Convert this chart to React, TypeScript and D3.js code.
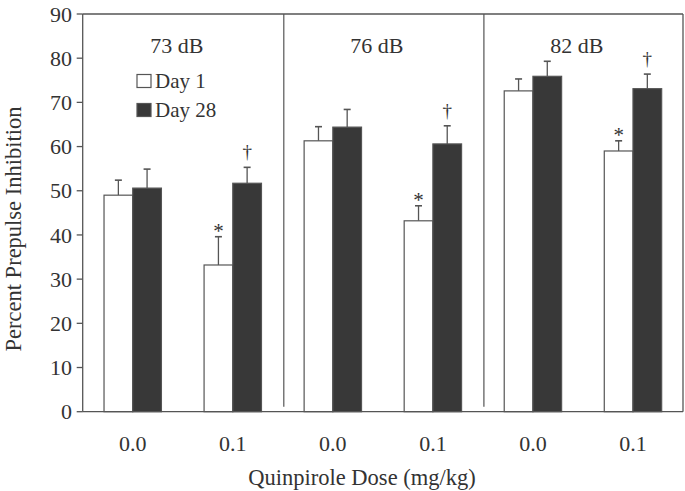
import React from "react";
import * as d3 from "d3";

const groups = ["73 dB", "76 dB", "82 dB"];
const doses = ["0.0", "0.1", "0.0", "0.1", "0.0", "0.1"];
const day1 = [49.0, 33.2, 61.3, 43.2, 72.6, 59.0];
const day1Err = [3.4, 6.4, 3.2, 3.4, 2.7, 2.3];
const day28 = [50.6, 51.7, 64.4, 60.6, 75.9, 73.1];
const day28Err = [4.3, 3.6, 4.0, 4.1, 3.4, 3.3];
const star = [false, true, false, true, false, true];
const dagger = [false, true, false, true, false, true];
const yTicks = [0, 10, 20, 30, 40, 50, 60, 70, 80, 90];

const W = 685;
const H = 491;
const M = { left: 82.7, right: 683, top: 14, bottom: 411.7 };
const FONT = "'Liberation Serif', 'Times New Roman', serif";
const TXT = "#333";
const LINE = "#555";
const DARK = "#383838";

export default function App() {
  const x = d3
    .scaleBand<number>()
    .domain(d3.range(doses.length))
    .range([M.left, M.right])
    .paddingInner(0)
    .paddingOuter(0);
  const y = d3.scaleLinear().domain([0, 90]).range([M.bottom, M.top]);
  const bw = 28.7;
  const cap = 3.5;

  const bars: React.ReactNode[] = [];
  doses.forEach((_, i) => {
    const c = (x(i) as number) + x.bandwidth() / 2;
    const x1 = c - bw;
    const x2 = c;
    const e1 = y(day1[i] + day1Err[i]);
    const e2 = y(day28[i] + day28Err[i]);
    bars.push(
      <g key={"b" + i}>
        <line x1={x1 + bw / 2} x2={x1 + bw / 2} y1={y(day1[i])} y2={e1} stroke={LINE} strokeWidth={1.3} />
        <line x1={x1 + bw / 2 - cap} x2={x1 + bw / 2 + cap} y1={e1} y2={e1} stroke={LINE} strokeWidth={1.6} />
        <line x1={x2 + bw / 2} x2={x2 + bw / 2} y1={y(day28[i])} y2={e2} stroke={LINE} strokeWidth={1.3} />
        <line x1={x2 + bw / 2 - cap} x2={x2 + bw / 2 + cap} y1={e2} y2={e2} stroke={LINE} strokeWidth={1.6} />
        <rect x={x1} y={y(day1[i])} width={bw} height={y(0) - y(day1[i])} fill="#fff" stroke={LINE} strokeWidth={1.2} />
        <rect x={x2} y={y(day28[i])} width={bw} height={y(0) - y(day28[i])} fill={DARK} stroke={LINE} strokeWidth={1.2} />
        {star[i] && (
          <text x={x1 + bw / 2} y={e1 + 1} textAnchor="middle" fontSize={21} fill={TXT} fontFamily={FONT}>
            *
          </text>
        )}
        {dagger[i] && (
          <text x={x2 + bw / 2} y={e2 - 9} textAnchor="middle" fontSize={19} fill={TXT} fontFamily={FONT}>
            †
          </text>
        )}
      </g>
    );
  });

  const dividers = [2, 4].map((i) => x(i) as number);

  return (
    <svg width={W} height={H} style={{ position: "absolute", left: 0, top: 0 }}>
      <rect x={0} y={0} width={W} height={H} fill="#fff" />
      {bars}
      <line x1={M.left} x2={M.right} y1={M.top} y2={M.top} stroke={LINE} strokeWidth={1.3} />
      <line x1={M.right} x2={M.right} y1={M.top} y2={M.bottom} stroke={LINE} strokeWidth={1.3} />
      <line x1={M.left} x2={M.right} y1={M.bottom} y2={M.bottom} stroke={LINE} strokeWidth={1.3} />
      <line x1={M.left} x2={M.left} y1={M.top} y2={M.bottom} stroke={LINE} strokeWidth={1.3} />
      {dividers.map((d, k) => (
        <line key={k} x1={d + 1} x2={d + 1} y1={M.top} y2={M.bottom - 5} stroke={LINE} strokeWidth={1.2} />
      ))}
      {yTicks.map((t) => (
        <g key={t}>
          <line x1={M.left - 6} x2={M.left} y1={y(t)} y2={y(t)} stroke={LINE} strokeWidth={1.3} />
          <text x={72} y={y(t)} dy="0.35em" textAnchor="end" fontSize={22} fill={TXT} fontFamily={FONT}>
            {t}
          </text>
        </g>
      ))}
      {doses.map((d, i) => (
        <text
          key={i}
          x={(x(i) as number) + x.bandwidth() / 2}
          y={451}
          textAnchor="middle"
          fontSize={22}
          fill={TXT}
          fontFamily={FONT}
        >
          {d}
        </text>
      ))}
      {groups.map((g, k) => (
        <text
          key={g}
          x={((x(k * 2) as number) + (x(k * 2 + 1) as number) + x.bandwidth()) / 2 - 6}
          y={53}
          textAnchor="middle"
          fontSize={22}
          fill={TXT}
          fontFamily={FONT}
        >
          {g}
        </text>
      ))}
      <rect x={137} y={74.5} width={14} height={13} fill="#fff" stroke={LINE} strokeWidth={1.2} />
      <text x={155} y={88} fontSize={21} fill={TXT} fontFamily={FONT}>
        Day 1
      </text>
      <rect x={137} y={103.5} width={14} height={13} fill={DARK} stroke={LINE} strokeWidth={1.2} />
      <text x={155} y={117} fontSize={21} fill={TXT} fontFamily={FONT}>
        Day 28
      </text>
      <text x={362} y={485} textAnchor="middle" fontSize={22.5} fill={TXT} fontFamily={FONT}>
        Quinpirole Dose (mg/kg)
      </text>
      <text
        transform={`translate(21, 229) rotate(-90)`}
        textAnchor="middle"
        fontSize={22.5}
        fill={TXT}
        fontFamily={FONT}
      >
        Percent Prepulse Inhibition
      </text>
    </svg>
  );
}
